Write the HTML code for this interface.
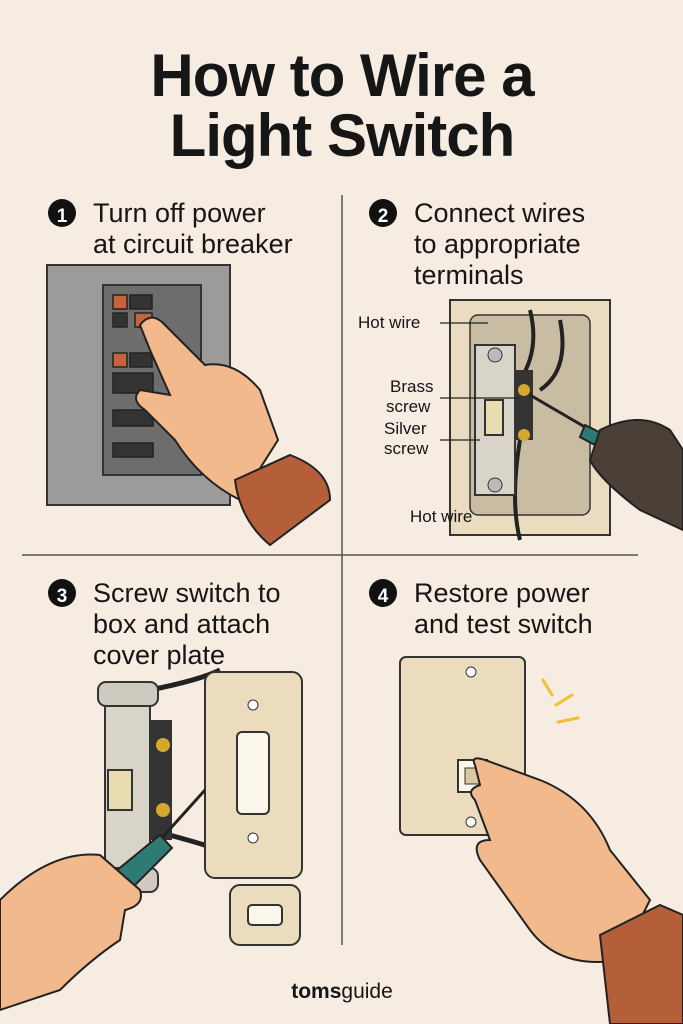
<!DOCTYPE html>
<html><head><meta charset="utf-8">
<style>
html,body{margin:0;padding:0;background:#f6ece1;}
svg{display:block}
text{font-family:"Liberation Sans","DejaVu Sans",sans-serif;fill:#161616}
</style></head>
<body>
<svg width="683" height="1024" viewBox="0 0 683 1024" xmlns="http://www.w3.org/2000/svg">
<rect width="683" height="1024" fill="#f6ece1"/>
<!-- Title -->
<text x="342" y="96" font-size="60" font-weight="bold" text-anchor="middle" letter-spacing="-1">How to Wire a</text>
<text x="342" y="156" font-size="60" font-weight="bold" text-anchor="middle" letter-spacing="-1">Light Switch</text>
<!-- dividers -->
<line x1="342" y1="195" x2="342" y2="945" stroke="#555" stroke-width="1.5"/>
<line x1="22" y1="555" x2="638" y2="555" stroke="#555" stroke-width="1.5"/>

<!-- Step headings -->
<g font-size="27">
<circle cx="62" cy="213" r="14" fill="#111"/><text x="62" y="222" font-size="19" font-weight="bold" text-anchor="middle" style="fill:#fff">1</text>
<text x="93" y="222">Turn off power</text><text x="93" y="253">at circuit breaker</text>
<circle cx="383" cy="213" r="14" fill="#111"/><text x="383" y="222" font-size="19" font-weight="bold" text-anchor="middle" style="fill:#fff">2</text>
<text x="414" y="222">Connect wires</text><text x="414" y="253">to appropriate</text><text x="414" y="284">terminals</text>
<circle cx="62" cy="593" r="14" fill="#111"/><text x="62" y="602" font-size="19" font-weight="bold" text-anchor="middle" style="fill:#fff">3</text>
<text x="93" y="602">Screw switch to</text><text x="93" y="633">box and attach</text><text x="93" y="664">cover plate</text>
<circle cx="383" cy="593" r="14" fill="#111"/><text x="383" y="602" font-size="19" font-weight="bold" text-anchor="middle" style="fill:#fff">4</text>
<text x="414" y="602">Restore power</text><text x="414" y="633">and test switch</text>
</g>

<!-- Panel 1: breaker -->
<rect x="47" y="265" width="183" height="240" fill="#9d9b99" stroke="#333" stroke-width="2"/>
<rect x="103" y="285" width="98" height="190" fill="#6f6d6b" stroke="#333" stroke-width="2"/>
<g stroke="#222" stroke-width="1.5">
<rect x="113" y="295" width="14" height="14" fill="#c8643c"/><rect x="130" y="295" width="22" height="14" fill="#333"/>
<rect x="113" y="313" width="14" height="14" fill="#333"/><rect x="135" y="313" width="17" height="14" fill="#c8643c"/>
<rect x="113" y="353" width="14" height="14" fill="#c8643c"/><rect x="130" y="353" width="22" height="14" fill="#333"/>
<rect x="113" y="373" width="40" height="20" fill="#333"/>
<rect x="113" y="410" width="40" height="16" fill="#333"/>
<rect x="113" y="443" width="40" height="14" fill="#333"/>
</g>
<path d="M140 325 Q150 312 162 322 L205 365 Q235 360 260 390 L278 440 L240 500 Q200 480 175 440 L145 410 Q130 400 140 390 L170 395 L150 350 Z" fill="#f2b98c" stroke="#222" stroke-width="2"/>
<path d="M235 480 L290 455 Q330 470 330 500 L270 545 Q240 520 235 480 Z" fill="#b45f3a" stroke="#222" stroke-width="2"/>

<!-- Panel 2 -->
<rect x="450" y="300" width="160" height="235" fill="#e9dcc0" stroke="#333" stroke-width="2"/>
<rect x="470" y="315" width="120" height="200" rx="8" fill="#c8bca2" stroke="#333" stroke-width="1.5"/>
<path d="M530 310 Q540 350 520 380 M560 320 Q570 370 540 390 M520 440 Q510 500 520 540" stroke="#222" stroke-width="4" fill="none"/>
<rect x="475" y="345" width="40" height="150" fill="#d9d4c8" stroke="#333" stroke-width="2"/>
<rect x="485" y="400" width="18" height="35" fill="#e8dcb0" stroke="#333" stroke-width="2"/>
<circle cx="495" cy="355" r="7" fill="#bbb" stroke="#333"/><circle cx="495" cy="485" r="7" fill="#bbb" stroke="#333"/>
<rect x="515" y="370" width="18" height="70" fill="#333"/>
<circle cx="524" cy="390" r="6" fill="#d4a82c"/><circle cx="524" cy="435" r="6" fill="#d4a82c"/>
<line x1="530" y1="395" x2="590" y2="430" stroke="#222" stroke-width="3"/>
<path d="M585 425 L615 440 L608 452 L580 437 Z" fill="#2f7a72" stroke="#222" stroke-width="2"/>
<path d="M600 430 Q640 410 670 430 L683 450 L683 530 L640 510 Q600 480 590 460 Z" fill="#4a4038" stroke="#222" stroke-width="2"/>
<g font-size="17">
<text x="358" y="328">Hot wire</text>
<text x="390" y="392">Brass</text><text x="386" y="412">screw</text>
<text x="384" y="434">Silver</text><text x="384" y="454">screw</text>
<text x="410" y="522">Hot wire</text>
</g>
<g stroke="#222" stroke-width="1.2"><line x1="440" y1="323" x2="488" y2="323"/><line x1="440" y1="398" x2="520" y2="398"/><line x1="440" y1="440" x2="480" y2="440"/></g>

<!-- Panel 3 -->
<path d="M150 690 Q200 680 220 670 M150 830 Q190 840 220 850" stroke="#222" stroke-width="5" fill="none"/>
<rect x="105" y="690" width="45" height="190" fill="#d9d4c8" stroke="#333" stroke-width="2"/>
<rect x="98" y="682" width="60" height="24" rx="8" fill="#cfcac0" stroke="#333" stroke-width="2"/>
<rect x="98" y="868" width="60" height="24" rx="8" fill="#cfcac0" stroke="#333" stroke-width="2"/>
<rect x="108" y="770" width="24" height="40" fill="#e8dcb0" stroke="#333" stroke-width="2"/>
<rect x="150" y="720" width="22" height="120" fill="#333"/>
<circle cx="163" cy="745" r="7" fill="#d4a82c"/><circle cx="163" cy="810" r="7" fill="#d4a82c"/>
<rect x="205" y="672" width="97" height="206" rx="10" fill="#eadcbc" stroke="#333" stroke-width="2"/>
<rect x="237" y="732" width="32" height="82" rx="5" fill="#fbf6ea" stroke="#333" stroke-width="2"/>
<circle cx="253" cy="705" r="5" fill="#fff" stroke="#333"/><circle cx="253" cy="838" r="5" fill="#fff" stroke="#333"/>
<rect x="230" y="885" width="70" height="60" rx="10" fill="#eadcbc" stroke="#333" stroke-width="2"/>
<rect x="248" y="905" width="34" height="20" rx="4" fill="#fbf6ea" stroke="#333" stroke-width="2"/>
<line x1="160" y1="840" x2="205" y2="790" stroke="#222" stroke-width="3"/>
<path d="M105 880 L160 835 L172 848 L120 900 Z" fill="#2f7a72" stroke="#222" stroke-width="2"/>
<path d="M0 900 Q50 850 100 855 L140 890 Q145 905 125 910 L120 940 Q90 960 60 990 L0 1010 Z" fill="#f2b98c" stroke="#222" stroke-width="2"/>

<!-- Panel 4 -->
<rect x="400" y="657" width="125" height="178" rx="6" fill="#eadcbc" stroke="#333" stroke-width="2"/>
<circle cx="471" cy="672" r="5" fill="#fff" stroke="#333"/><circle cx="471" cy="822" r="5" fill="#fff" stroke="#333"/>
<rect x="458" y="760" width="29" height="32" fill="#fbf6ea" stroke="#333" stroke-width="2"/>
<rect x="465" y="768" width="15" height="16" fill="#d9c8a0" stroke="#333"/>
<g stroke="#f0c030" stroke-width="3" stroke-linecap="round"><line x1="543" y1="680" x2="552" y2="695"/><line x1="556" y1="705" x2="572" y2="695"/><line x1="558" y1="722" x2="578" y2="718"/></g>
<path d="M475 765 Q470 755 485 760 L540 780 Q590 800 610 850 L650 900 L620 960 Q560 970 530 930 L480 860 Q470 840 490 840 L475 800 Q465 790 480 785 Z" fill="#f2b98c" stroke="#222" stroke-width="2"/>
<path d="M600 935 L660 905 L683 915 L683 1024 L610 1024 Z" fill="#b45f3a" stroke="#222" stroke-width="2"/>

<text x="342" y="998" font-size="21" font-weight="bold" text-anchor="middle">toms<tspan font-weight="normal">guide</tspan></text>
</svg>
</body></html>
